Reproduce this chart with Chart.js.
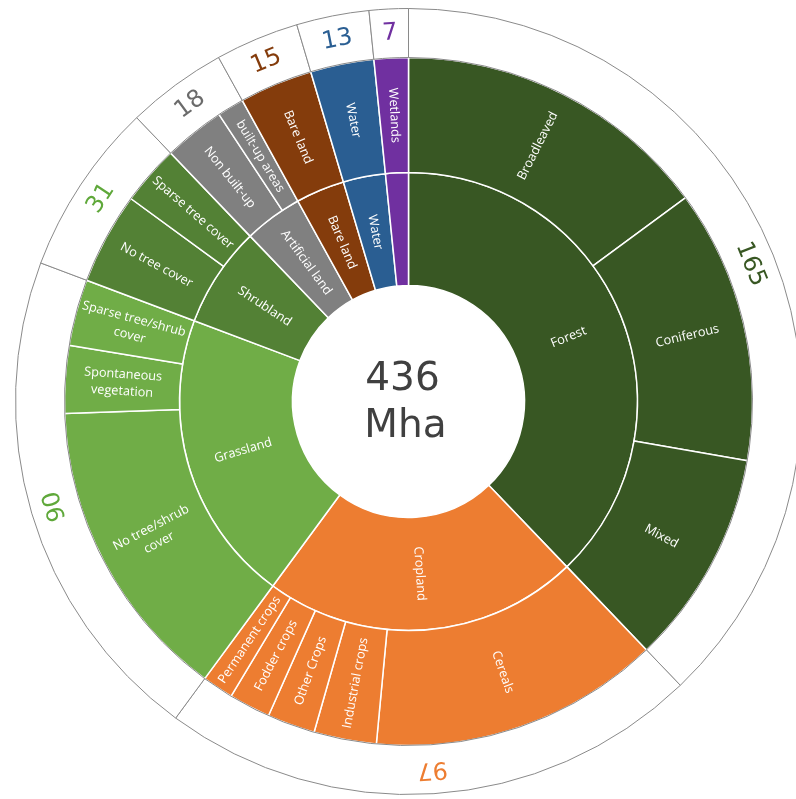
<!DOCTYPE html>
<html>
<head>
<meta charset="utf-8">
<script src="https://cdn.jsdelivr.net/npm/chart.js@4.4.1/dist/chart.umd.min.js"></script>
<style>
  html, body { margin: 0; padding: 0; background: #fff; overflow: hidden; width: 796px; height: 799px; }
  #wrap { position: absolute; left: 15px; top: 8px; }
</style>
</head>
<body>
<div id="wrap"><canvas id="landChart" width="787" height="787"></canvas></div>
<script>
// land cover, Mha
const categories = ['Forest', 'Cropland', 'Grassland', 'Shrubland', 'Artificial land', 'Bare land', 'Water', 'Wetlands'];
const categoryValues = [165, 97, 90, 31, 18, 15, 13, 7];
const categoryColors = ['#385723', '#ED7D31', '#70AD47', '#538135', '#808080', '#843C0C', '#2A5E92', '#7030A0'];
const totalColors = ['#385723', '#ED7D31', '#5fa83a', '#5fa83a', '#6b6b6b', '#843C0C', '#2A5E92', '#7030A0'];

const subLabels = [
  'Broadleaved', 'Coniferous', 'Mixed',
  'Cereals', 'Industrial crops', 'Other Crops', 'Fodder crops', 'Permanent crops',
  'No tree/shrub\ncover', 'Spontaneous\nvegetation', 'Sparse tree/shrub\ncover',
  'No tree cover', 'Sparse tree cover',
  'Non built-up', 'built-up areas',
  'Bare land', 'Water', 'Wetlands'
];
const subValues = [65, 56, 44, 59.5, 12.8, 9.8, 8.5, 6.4, 62.6, 13.8, 13.6, 18.8, 12.2, 12.5, 5.5, 15, 13, 7];
const subParent = [0, 0, 0, 1, 1, 1, 1, 1, 2, 2, 2, 3, 3, 4, 4, 5, 6, 7];

const centerLines = ['436', 'Mha'];

const subColors = subParent.map(p => categoryColors[p]);

// text for each ring, by dataset index
const ringText = [
  { texts: categoryValues.map(String), colors: totalColors, font: '24px "DejaVu Sans"', tangent: true },
  { texts: subLabels, font: '12.7px "Open Sans"', lineHeight: 17 },
  { texts: categories, font: '12.7px "Open Sans"', lineHeight: 17 }
];

const ringLabels = {
  id: 'ringLabels',
  afterDatasetsDraw(chart) {
    const ctx = chart.ctx;
    let cx = 0, cy = 0;
    chart.data.datasets.forEach((ds, di) => {
      const cfg = ringText[di];
      chart.getDatasetMeta(di).data.forEach((arc, i) => {
        const p = arc.getProps(['x', 'y', 'startAngle', 'endAngle', 'innerRadius', 'outerRadius']);
        cx = p.x; cy = p.y;
        const mid = (p.startAngle + p.endAngle) / 2;
        const r = (p.innerRadius + p.outerRadius) / 2;
        const text = cfg.texts[i];
        if (!text || (p.endAngle - p.startAngle) * r < 19) return;
        let rot;
        if (cfg.tangent) {
          rot = mid + Math.PI / 2;
        } else {
          rot = mid;
          while (rot > Math.PI / 2) rot -= Math.PI;
          while (rot < -Math.PI / 2) rot += Math.PI;
        }
        ctx.save();
        ctx.translate(p.x + r * Math.cos(mid), p.y + r * Math.sin(mid));
        ctx.rotate(rot);
        ctx.font = cfg.font;
        ctx.fillStyle = cfg.colors ? cfg.colors[i] : '#ffffff';
        ctx.textAlign = 'center';
        ctx.textBaseline = 'middle';
        const lines = text.split('\n');
        const lh = cfg.lineHeight || 20;
        lines.forEach((ln, k) => ctx.fillText(ln, 0, (k - (lines.length - 1) / 2) * lh));
        ctx.restore();
      });
    });

    ctx.save();
    ctx.font = '39px "DejaVu Sans"';
    ctx.fillStyle = '#404040';
    ctx.textAlign = 'center';
    ctx.textBaseline = 'alphabetic';
    ctx.fillText(centerLines[0], cx - 6, cy - 12);
    ctx.fillText(centerLines[1], cx - 3, cy + 35);
    ctx.restore();
  }
};

new Chart(document.getElementById('landChart').getContext('2d'), {
  type: 'doughnut',
  data: {
    datasets: [
      { data: categoryValues, backgroundColor: '#ffffff', borderColor: '#8a8a8a', borderWidth: 1, weight: 49 },
      { data: subValues, backgroundColor: subColors, borderColor: '#ffffff', borderWidth: 1.5, weight: 115 },
      { data: categoryValues, backgroundColor: categoryColors, borderColor: '#ffffff', borderWidth: 1.5, weight: 113 }
    ]
  },
  options: {
    responsive: false,
    animation: false,
    events: [],
    cutout: 116,
    plugins: { legend: { display: false }, tooltip: { enabled: false } }
  },
  plugins: [ringLabels]
});
</script>
</body>
</html>
